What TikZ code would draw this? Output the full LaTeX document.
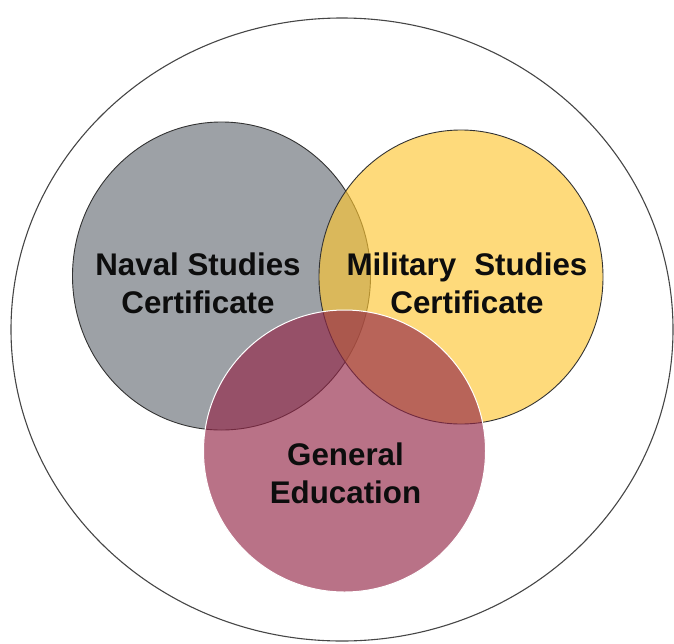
\documentclass[tikz,border=0pt]{standalone}
\usepackage{fontspec}
\setmainfont{Liberation Sans}
\usepackage{tikz}

\definecolor{navalgray}{RGB}{157,161,166}
\definecolor{milgold}{RGB}{253,197,49}
\definecolor{genmaroon}{RGB}{147,38,71}
\definecolor{rimgray}{RGB}{70,70,70}

\begin{document}
\begin{tikzpicture}[x=1pt,y=-1pt,
    label/.style={align=center,font=\fontsize{31.3}{38}\selectfont\bfseries,text=black!95}]
                \useasboundingbox (0,0) rectangle (674,643);
                \draw [rimgray, line width=1.1pt] (342,329.5) ellipse [x radius=331, y radius=311.5];

                \filldraw [fill=navalgray, draw=black!80, line width=0.9pt] (221.5,276) ellipse [x radius=149, y radius=154];
                \filldraw [fill=milgold, fill opacity=0.64, draw=black!80, line width=0.9pt] (461,277) ellipse [x radius=142, y radius=147];
                \filldraw [fill=genmaroon, fill opacity=0.65, draw=white, line width=1pt] (344.5,451) circle (141);

                \node [label] (naval) at (198,283) {Naval Studies\\Certificate};
                \node [label] (military) at (467,283) {Military\hspace{0.3em} Studies\\Certificate};
                \node [label] (gened) at (345.5,473) {General\\Education};
            \end{tikzpicture}
\end{document}
